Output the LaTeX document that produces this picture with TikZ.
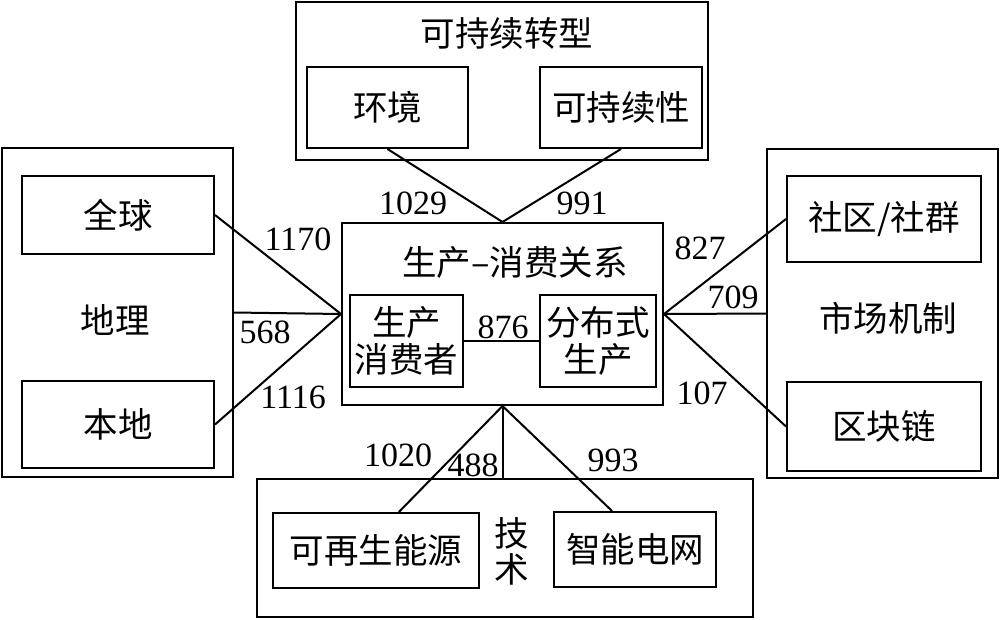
\documentclass[tikz,border=0pt]{standalone}
\usepackage{fontspec}
\setmainfont{Liberation Serif}
\newfontfamily\cjk{Noto Sans CJK SC}
\usetikzlibrary{calc}
\begin{document}
\begin{tikzpicture}[x=1pt,y=-1pt,
  box/.style={draw, line width=2pt, inner sep=0pt, align=center,
    font=\fontsize{34.5}{37}\selectfont\cjk},
  lbl/.style={inner sep=0pt, font=\fontsize{34.5}{37}\selectfont\cjk, align=center},
  num/.style={inner sep=0pt, font=\fontsize{34}{36}\selectfont},
  conn/.style={line width=2pt}]
\useasboundingbox (0,0) rectangle (1000,619);
% top group
\node[box, minimum width=412pt, minimum height=158pt] (T) at (502,81) {};
\node[lbl] (Ttitle) at (507,33) {可持续转型};
\node[box, minimum width=161pt, minimum height=81pt] (env) at (387.5,107.5) {环境};
\node[box, minimum width=162pt, minimum height=81pt] (sus) at (621,107.5) {可持续性};
% central group
\node[box, minimum width=321pt, minimum height=182pt] (C) at (502.5,314) {};
\node[lbl] (Ctitle) at (515,262) {生产–消费关系};
\node[box, minimum width=113pt, minimum height=92pt] (pc) at (406.5,341) {生产\\消费者};
\node[box, minimum width=116pt, minimum height=92pt] (dp) at (598,341) {分布式\\生产};
% left group
\node[box, minimum width=231pt, minimum height=329pt] (L) at (117.5,312.5) {};
\node[lbl] (Ltitle) at (115,320) {地理};
\node[box, minimum width=192pt, minimum height=78pt] (glob) at (118,215) {全球};
\node[box, minimum width=192pt, minimum height=87pt] (loc) at (118,424.5) {本地};
% right group
\node[box, minimum width=231pt, minimum height=329pt] (R) at (882.5,313.5) {};
\node[lbl] (Rtitle) at (888,318) {市场机制};
\node[box, minimum width=194pt, minimum height=86pt] (comm) at (884,219) {社区/社群};
\node[box, minimum width=194pt, minimum height=89pt] (blk) at (884,426.5) {区块链};
% bottom group
\node[box, minimum width=496pt, minimum height=138pt] (B) at (505,548) {};
\node[lbl, font=\fontsize{34.5}{36}\selectfont\cjk] (Btitle) at (512,551) {技\\术};
\node[box, minimum width=206pt, minimum height=75pt] (ren) at (376,550.5) {可再生能源};
\node[box, minimum width=162pt, minimum height=75pt] (grid) at (635,549.5) {智能电网};
% connectors
\draw[conn] (env.south) -- (C.north);
\draw[conn] (sus.south) -- (C.north);
\draw[conn] (glob.east) -- (C.west);
\draw[conn] (L.east) -- (C.west);
\draw[conn] (loc.east) -- (C.west);
\draw[conn] (C.east) -- (comm.west);
\draw[conn] (C.east) -- (R.west);
\draw[conn] (C.east) -- (blk.west);
\draw[conn] (pc.east) -- (dp.west);
\draw[conn] (C.south) -- ($(ren.north west)!0.61!(ren.north east)$);
\draw[conn] (C.south) -- (C.south |- B.north);
\draw[conn] (C.south) -- ($(grid.north west)!0.36!(grid.north east)$);
% labels
\node[num] (n1029) at (413,203) {1029};
\node[num] (n991) at (582,203) {991};
\node[num] (n1170) at (298,239) {1170};
\node[num] (n568) at (265,332) {568};
\node[num] (n1116) at (293,397) {1116};
\node[num] (n827) at (700,248) {827};
\node[num] (n709) at (733,297) {709};
\node[num] (n107) at (702,393) {107};
\node[num] (n876) at (503,327) {876};
\node[num] (n1020) at (398,455) {1020};
\node[num] (n488) at (473,465) {488};
\node[num] (n993) at (613,460) {993};
\end{tikzpicture}
\end{document}
